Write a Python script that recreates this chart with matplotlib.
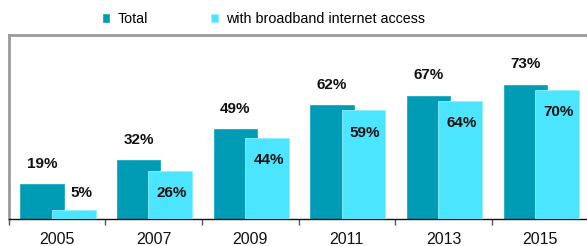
import matplotlib
matplotlib.use("Agg")
from matplotlib import pyplot as plt
import numpy as np

years = ["2005", "2007", "2009", "2011", "2013", "2015"]
total = [19, 32, 49, 62, 67, 73]
broadband = [5, 26, 44, 59, 64, 70]

plt.rcParams["font.family"] = ["Liberation Sans", "DejaVu Sans"]

fig = plt.figure(figsize=(5.87, 2.46), dpi=100)
W, H = 587, 246
left, right, top, bottom = 8.5, 588.5, 35, 219
ax = fig.add_axes([left / W, 1 - bottom / H, (right - left) / W, (bottom - top) / H])

x = np.arange(len(years))
c_total = "#009bb4"
c_bb = "#4ce5ff"

b1 = ax.bar(x + 0.124, total, width=0.445, align="edge", color=c_total,
            edgecolor="#0aa3bc", linewidth=0.5, label="Total", zorder=2)
b2 = ax.bar(x + 0.445, broadband, width=0.455, align="edge", color=c_bb,
            edgecolor="#8ff0ff", linewidth=0.6, label="with broadband internet access", zorder=3)

for i, v in enumerate(total):
    ax.text(i + 0.124 + 0.2225, v + 11, f"{v}%", ha="center", va="center",
            fontsize=11, fontweight="bold", color="#111111", zorder=4)
for i, v in enumerate(broadband):
    if v < 10:
        xx, y = i + 0.76, v + 9
    else:
        xx, y = i + 0.69, v - 12
    ax.text(xx, y, f"{v}%", ha="center", va="center",
            fontsize=11, fontweight="bold", color="#111111", zorder=4)

ax.set_xlim(0, len(years))
ax.set_ylim(0, 100)
ax.set_yticks([])
ax.set_xticks(np.arange(len(years) + 1))
ax.set_xticklabels([])
ax.set_xticks(x + 0.5, minor=True)
ax.set_xticklabels(years, minor=True, fontsize=11.5, color="#111111")
ax.tick_params(axis="x", which="major", direction="out", length=4, width=1, color="#555555")
ax.tick_params(axis="x", which="minor", length=0, pad=9)

for s in ["top", "left", "right"]:
    ax.spines[s].set_color("#9a9a9a")
    ax.spines[s].set_linewidth(2)
ax.spines["bottom"].set_color("#111111")
ax.spines["bottom"].set_linewidth(1)

fig.legend(handles=[b1, b2], loc="center left", bbox_to_anchor=(97 / W, 1 - 19 / H),
           ncol=2, frameon=False, fontsize=10.3, handlelength=0.45, handleheight=0.45,
           handletextpad=0.6, columnspacing=4.4, borderaxespad=0)

fig.savefig("out.png", dpi=100)
